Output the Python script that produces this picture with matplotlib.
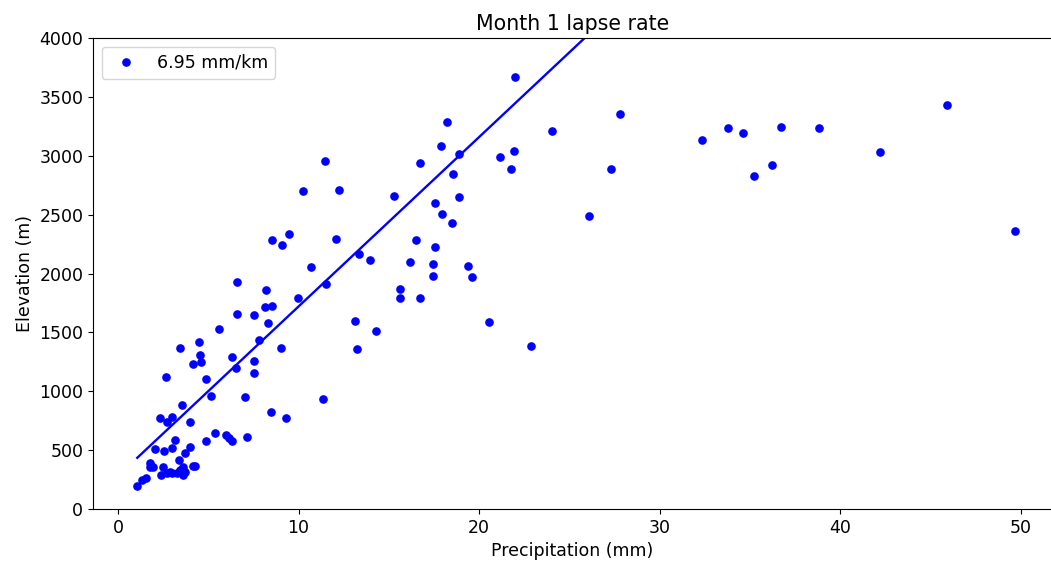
import matplotlib
matplotlib.use("Agg")
import matplotlib.pyplot as plt
import numpy as np

# precipitation (mm) and elevation (m)
precip = [1.07, 1.35, 1.57, 1.75, 1.79, 1.96, 2.05, 2.31, 2.41, 2.50, 2.57, 2.68, 2.69,
          2.71, 2.88, 2.97, 2.97, 2.99, 3.14, 3.25, 3.40, 3.41, 3.43, 3.53, 3.56, 3.62,
          3.62, 3.71, 3.71, 3.97, 3.99, 4.16, 4.17, 4.25, 4.49, 4.52, 4.58, 4.86, 4.89,
          5.13, 5.35, 5.60, 5.97, 6.15, 6.33, 6.33, 6.55, 6.59, 6.59, 7.01, 7.15, 7.51,
          7.53, 7.53, 7.81, 8.12, 8.22, 8.33, 8.49, 8.53, 8.55, 9.05, 9.09, 9.29, 9.47,
          9.95, 10.27, 10.71, 11.36, 11.49, 11.54, 12.09, 12.24, 13.13, 13.26, 13.35,
          13.96, 14.28, 15.27, 15.64, 15.64, 16.19, 16.51, 16.75, 16.75, 17.45, 17.45,
          17.58, 17.58, 17.87, 17.93, 18.24, 18.52, 18.54, 18.89, 18.89, 19.37, 19.61,
          20.55, 21.14, 21.77, 21.94, 22.0, 22.85, 24.02, 26.1, 27.3, 27.8, 32.35, 33.8,
          34.6, 35.2, 36.2, 36.7, 38.8, 42.2, 45.9, 49.7]
elev = [198, 244, 260, 388, 360, 360, 510, 770, 289, 360, 495, 1118, 303,
        741, 317, 515, 303, 784, 586, 303, 416, 1365, 331, 303, 883, 360,
        289, 473, 317, 741, 529, 1229, 365, 368, 1416, 1311, 1248, 580, 1101,
        960, 648, 1531, 631, 600, 577, 1294, 1195, 1656, 1925, 954, 614, 1650,
        1257, 1152, 1435, 1718, 1860, 1582, 824, 2282, 1724, 1365, 2242, 775, 2338,
        1795, 2701, 2058, 932, 2955, 1908, 2293, 2707, 1597, 1359, 2168,
        2112, 1512, 2661, 1866, 1795, 2095, 2285, 2936, 1795, 2083, 1976,
        2225, 2599, 3083, 2505, 3289, 2431, 2845, 3011, 2647, 2064, 1970,
        1588, 2987, 2885, 3040, 3669, 1387, 3213, 2488, 2887, 3355, 3134, 3236,
        3193, 2828, 2921, 3244, 3236, 3032, 3431, 2361]

# fitted line: 6.95 mm/km -> slope in m per mm
slope = 1000 / 6.95
intercept = 281

plt.rcParams['font.size'] = 12.5
fig = plt.figure(figsize=(10.51, 5.69), dpi=100)
ax = fig.add_axes([0.0885, 0.1054, 0.912, 0.8278])

ax.plot(precip, elev, 'o', color='blue', markersize=5.2, label='6.95 mm/km')
xl = np.array([min(precip), max(precip)])
ax.plot(xl, slope * xl + intercept, '-', color='blue', linewidth=1.7)

ax.set_xlim(-1.38, 51.7)
ax.set_ylim(0, 4000)
ax.set_xlabel('Precipitation (mm)')
ax.set_ylabel('Elevation (m)')
ax.set_title('Month 1 lapse rate', fontsize=14.8)
ax.legend(loc='upper left')

fig.savefig('out.png', dpi=100)
